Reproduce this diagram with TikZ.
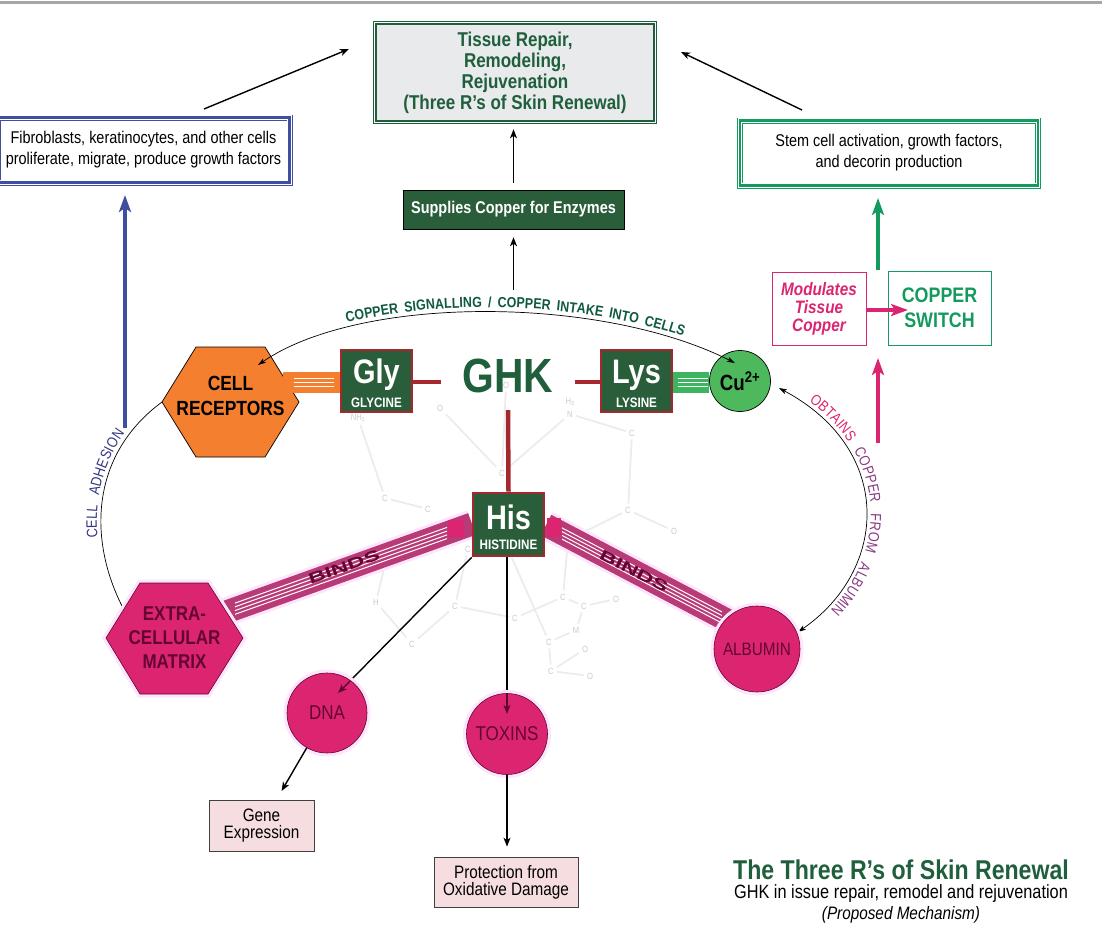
\documentclass[tikz,border=0pt]{standalone}
\usepackage{fontspec}
\setmainfont[FakeStretch=0.85]{Liberation Sans}
\newfontfamily\bindsfont[FakeStretch=1.6]{Liberation Sans}
\usetikzlibrary{arrows.meta,decorations.text,calc}
\definecolor{ghkgreen}{HTML}{1F5F3C}
\definecolor{arcgreen}{HTML}{0F5A3E}
\definecolor{boxgreen}{HTML}{2A5E3A}
\definecolor{aminored}{HTML}{A5282F}
\definecolor{switchgreen}{HTML}{149A5E}
\definecolor{hotpink}{HTML}{DC2570}
\definecolor{bandpink}{HTML}{B83A76}
\definecolor{halopink}{HTML}{FDE6FB}
\definecolor{darkpink}{HTML}{640434}
\definecolor{plum}{HTML}{8A3A80}
\definecolor{cellblue}{HTML}{3F4E9E}
\definecolor{adhesion}{HTML}{33367F}
\definecolor{orangefill}{HTML}{F47F2E}
\definecolor{bandgreen}{HTML}{3DB560}
\definecolor{cugreen}{HTML}{4DB85C}
\definecolor{paleback}{HTML}{F6DDE0}
\definecolor{molgrey}{HTML}{ECECEC}
\definecolor{tissueback}{HTML}{E8EAEC}
\newcommand{\aminosub}{\bfseries\fontsize{13.7}{14}\selectfont}
\newcommand{\arcfont}{\fontsize{15}{15}\selectfont}
\newcommand{\signalfont}{\bfseries\fontsize{14.6}{15}\selectfont}
\tikzset{
  thin arrow/.style={-{Stealth[length=9pt,width=7pt,inset=2.5pt]},line width=1.4pt},
  arc arrow/.style={{Stealth[length=8pt,width=5pt,inset=2pt]}-{Stealth[length=8pt,width=5pt,inset=2pt]},line width=.7pt},
  thick arrow/.style={-{Stealth[length=17pt,width=12pt,inset=4pt]},line width=4pt},
  atom/.style={text=molgrey!85!black,inner sep=3pt,font=\fontsize{9}{9}\selectfont},
  bond/.style={molgrey,line width=1.8pt},
  amino/.style={draw=aminored,line width=2.6pt,fill=boxgreen,text=white,align=center,inner sep=0pt,minimum width=71pt,font=\bfseries\fontsize{34}{24}\selectfont},
  halo/.style={preaction={draw=halopink,line width=7pt}},
  pinkshape/.style={fill=hotpink,draw=darkpink,line width=.6pt,halo},
  pinkdot/.style={circle,pinkshape,inner sep=0pt,text=darkpink,font=\fontsize{20}{20}\selectfont},
  paperbox/.style={draw=black!75,line width=.7pt,fill=paleback,align=center,inner sep=0pt,font=\fontsize{18}{17}\selectfont},
  framed/.style={preaction={draw=#1,line width=6pt},preaction={draw=white,line width=4.6pt},draw=#1,line width=2.6pt},
  whitebox/.style={align=center,inner sep=0pt,font=\fontsize{17}{21}\selectfont},
  band/.style={line width=23pt,bandpink,preaction={draw=halopink,line width=29pt}},
  stripe/.style={white,line width=1pt},
  bindlabel/.style={text=darkpink,inner sep=0pt,font=\bindsfont\bfseries\fontsize{15}{15}\selectfont}
}
\begin{document}
\begin{tikzpicture}[x=1pt,y=-1pt]
\useasboundingbox (0,0) rectangle (1102,926);
\draw[black!35,line width=3pt] (0,2) -- (1102,2);
% molecule behind everything
\foreach \aname/\ax/\ay/\atext in {nh/358/418/NH\textsubscript{2},cA/385/498/C,cB/428/509/C,oA/440/408/O,cC/502/473/C,hn/570/402/H\textsubscript{3},nn/570/414/N,cD/632/433/C,cE/628/510/C,oB/674/531/O,oC/506/385/O,cF/468/549/C,hh/376/602/H,cG/455/606/C,cH/412/644/C,cI/515/618/C,cJ/563/597/C,cK/584/606/C,oD/616/599/O,mm/576/630/M,cL/549/642/C,oE/585/649/O,cM/551/671/C,oF/590/676/O}
  \node[atom] (\aname) at (\ax,\ay) {\atext};
\coordinate (hisBack) at (512,558);
\coordinate (bandBack) at (568,540);
\coordinate (bandBackB) at (386,560);
\foreach \afrom/\ato in {nh/cA,cA/cB,oA/cC,nn/cC,nn/cD,cD/cE,cE/oB,cE/bandBack,oC/cC,cF/cG,hh/bandBackB,hh/cH,cH/cG,cG/cI,cI/cJ,hisBack/cL,cJ/bandBack,cJ/cK,cK/oD,cK/mm,mm/cL,cL/cM,cM/oE,cM/oF}
  \draw[bond] (\afrom) -- (\ato);
% binds bands
\coordinate (bindLeftA) at (472,524);
\coordinate (bindLeftB) at (222,613.5);
\coordinate (bindRightA) at (546,525);
\coordinate (bindRightB) at (730,621.7);
\draw[band] (bindLeftA) -- (bindLeftB);
\draw[band] (bindRightA) -- (bindRightB);
\foreach \d in {-5.6,-1.9,1.9,5.6} {
  \draw[stripe] ($(235,608.7)+(0,\d)$) -- ($(447,533)+(0,\d)$);
  \draw[stripe] ($(562,533.5)+(0,\d)$) -- ($(722,617.5)+(0,\d)$);
}
\fill[hotpink] (448,520) rectangle (464,537);
\fill[hotpink] (547,518) rectangle (561,537);
\node[bindlabel,rotate=19.5] (bindsL) at (344,567) {BINDS};
\node[bindlabel,rotate=-27] (bindsR) at (634,571) {BINDS};
% outer arcs
\draw[line width=.7pt] (123,608) .. controls (88,540) and (90,455) .. (162,402);
\path[decorate,decoration={text along path,raise=4pt,text align={fit to path stretching spaces,left indent=74pt,right indent=48pt},
  text={|\arcfont\color{adhesion}|CELL ADHESION}}]
  (123,608) .. controls (88,540) and (90,455) .. (162,402);
% hexagons
\draw[fill=orangefill,line width=.7pt] (162,402) -- (196,347) -- (265,347) -- (299,402) -- (265,457) -- (196,457) -- cycle;
\node[align=center,inner sep=0pt,font=\bfseries\fontsize{20.5}{25}\selectfont] (receptors) at (230.5,396) {CELL\\RECEPTORS};
\draw[pinkshape] (106,638) -- (140,583) -- (208,583) -- (243,638) -- (208,694) -- (140,694) -- cycle;
\node[align=center,inner sep=0pt,text=darkpink,font=\bfseries\fontsize{20}{24}\selectfont] (matrix) at (174.5,638) {EXTRA-\\CELLULAR\\MATRIX};
% amino acids
\coordinate (redY) at (0,382);
\coordinate (bandY) at (0,382.5);
\node[amino,minimum height=62pt] (gly) at (376.5,381) {\rule{0pt}{30pt}Gly\\{\aminosub GLYCINE}};
\node[amino,minimum height=62pt] (lys) at (636.5,381) {\rule{0pt}{30pt}Lys\\{\aminosub LYSINE}};
\node[amino,minimum height=63pt] (his) at (508.5,524.5) {\rule{0pt}{30pt}His\\[-4pt]{\aminosub HISTIDINE}};
\node[inner sep=0pt,minimum width=133pt,minimum height=68pt,text=ghkgreen,font=\bfseries\fontsize{48}{48}\selectfont] (ghk) at (508,376) {GHK};
\draw[aminored,line width=4.5pt] (gly.east |- redY) -- (ghk.west |- redY);
\draw[aminored,line width=4.5pt] (ghk.east |- redY) -- (lys.west |- redY);
\draw[aminored,line width=4.5pt] (ghk.south) -- (his.north);
\node[circle,minimum size=61pt,inner sep=0pt,fill=cugreen,draw=black,line width=.7pt,font=\bfseries\fontsize{22}{22}\selectfont] (cu) at (740,381) {Cu\textsuperscript{2+}};
\draw[orangefill,line width=21pt] (283,382.5) -- (gly.west |- bandY);
\foreach \d in {378.5,382.5,386.5}
  \draw[white,line width=1.2pt] (294,\d) -- (334,\d);
\draw[bandgreen,line width=21pt] (lys.east |- bandY) -- (cu.west |- bandY);
\foreach \d in {378.5,382.5,386.5}
  \draw[white,line width=1.2pt] (678,\d) -- (708,\d);
% signalling arc
\draw[arc arrow] (258,365) .. controls (360,295) and (600,295) .. (735,363);
\path[decorate,decoration={text along path,raise=5pt,text align={fit to path stretching spaces,left indent=98pt,right indent=58pt},
  text={|\signalfont\color{arcgreen}|COPPER SIGNALLING / COPPER INTAKE INTO CELLS}}]
  (258,365) .. controls (360,295) and (600,295) .. (735,363);
% albumin arc
\draw[arc arrow] (798,632) .. controls (888,570) and (895,450) .. (779,388);
\path[decorate,decoration={text along path,raise=5pt,text align={fit to path stretching spaces,left indent=32pt,right indent=38pt},
  text={|\arcfont\color{hotpink}|OBTAINS|| |\arcfont\color{plum}|COPPER FROM ALBUMIN}}]
  (779,388) .. controls (895,450) and (888,570) .. (798,632);
% pink targets
\coordinate (dnaEdge) at (350,681);
\coordinate (dnaTip) at (338,693);
\coordinate (toxEdge) at (507,694);
\coordinate (toxTip) at (507,714);
\draw[line width=1.4pt] (his.south west) -- (dnaEdge);
\draw[line width=1.4pt] (his.south -| toxEdge) -- (toxEdge);
\node[pinkdot,minimum size=86pt,font=\fontsize{18}{18}\selectfont] (albumin) at (757,649) {ALBUMIN};
\node[pinkdot,minimum size=80pt] (dna) at (327,713) {DNA};
\node[pinkdot,minimum size=81pt] (toxins) at (507,734) {TOXINS};
\draw[thin arrow,darkpink] (dnaEdge) -- (dnaTip);
\draw[thin arrow,darkpink] (toxEdge) -- (toxTip);
\node[paperbox,minimum width=105pt,minimum height=51pt] (gene) at (261.5,825.5) {Gene\\Expression};
\node[paperbox,minimum width=144pt,minimum height=50pt] (protect) at (506,882) {Protection from\\Oxidative Damage};
\draw[thin arrow,shorten >=10pt] (dna) -- (gene);
\draw[thin arrow,shorten >=10pt] (toxins.south) -- (toxins.south |- protect.north);
% top row
\node[framed=ghkgreen,fill=tissueback,align=center,inner sep=0pt,minimum width=278pt,minimum height=97pt,text=ghkgreen,font=\bfseries\fontsize{20}{21}\selectfont] (tissue) at (515,72.5) {Tissue Repair,\\Remodeling,\\Rejuvenation\\(Three R's of Skin Renewal)};
\node[whitebox,framed=cellblue,minimum width=292pt,minimum height=65pt] (fibro) at (143.5,150) {Fibroblasts, keratinocytes, and other cells\\proliferate, migrate, produce growth factors};
\node[whitebox,framed=switchgreen,minimum width=298pt,minimum height=65pt] (stem) at (889,153) {Stem cell activation, growth factors,\\and decorin production};
\node[fill=boxgreen,draw=black,line width=.5pt,inner sep=0pt,minimum width=221pt,minimum height=39pt,text=white,font=\bfseries\fontsize{17}{17}\selectfont] (supplies) at (513.5,209.5) {Supplies Copper for Enzymes};
\coordinate (fibroOut) at (204,109);
\coordinate (tissueInL) at (349,49);
\coordinate (stemOut) at (802,110);
\coordinate (tissueInR) at (681,52);
\coordinate (ghkUp) at (513.5,290);
\draw[thin arrow] (fibroOut) -- (tissueInL);
\draw[thin arrow] (stemOut) -- (tissueInR);
\draw[thin arrow,shorten >=8pt] (ghkUp) -- (supplies.south);
\draw[thin arrow,shorten <=7pt,shorten >=7pt] (supplies.north) -- (supplies.north |- tissue.south);
% copper switch
\node[draw=hotpink,line width=1pt,inner sep=0pt,align=center,minimum width=94pt,minimum height=73pt,text=hotpink,font=\bfseries\itshape\fontsize{18}{18}\selectfont] (modulates) at (819,308.5) {Modulates\\Tissue\\Copper};
\node[draw=switchgreen,line width=.8pt,inner sep=0pt,align=center,minimum width=103pt,minimum height=74pt,text=switchgreen,font=\bfseries\fontsize{21}{25}\selectfont] (switch) at (939.5,308) {COPPER\\SWITCH};
\coordinate (blueFoot) at (125,428);
\coordinate (blueTip) at (125,195);
\coordinate (greenFoot) at (878,270);
\coordinate (greenTip) at (878,198);
\coordinate (pinkFoot) at (878,443);
\coordinate (pinkTip) at (878,358);
\coordinate (switchTip) at (908,310);
\draw[thick arrow,cellblue] (blueFoot) -- (blueTip);
\draw[thick arrow,switchgreen] (greenFoot) -- (greenTip);
\draw[thick arrow,hotpink] (pinkFoot) -- (pinkTip);
\draw[thick arrow,hotpink] (modulates.east |- switchTip) -- (switchTip);
% title
\node[inner sep=0pt,text=ghkgreen,font=\bfseries\fontsize{27.2}{27}\selectfont] (title) at (901,870) {The Three R's of Skin Renewal};
\node[inner sep=0pt,font=\fontsize{19.2}{19}\selectfont] (subtitle) at (901,894) {GHK in issue repair, remodel and rejuvenation};
\node[inner sep=0pt,font=\itshape\fontsize{18}{18}\selectfont] (proposed) at (901,915) {(Proposed Mechanism)};
\end{tikzpicture}
\end{document}
